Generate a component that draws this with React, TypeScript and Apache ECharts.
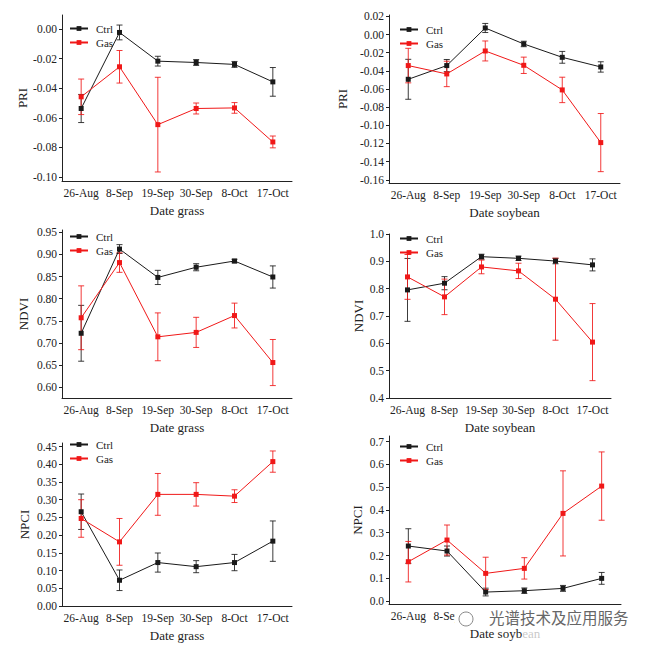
import React, { useEffect, useRef } from "react";
import * as echarts from "echarts";

const categories = ["26-Aug", "8-Sep", "19-Sep", "30-Sep", "8-Oct", "17-Oct"];

// PRI grass
const priGrassCtrl = [-0.0537, -0.0023, -0.0217, -0.0226, -0.0239, -0.0357];
const priGrassCtrlErr = [0.0095, 0.005, 0.0033, 0.002, 0.002, 0.0097];
const priGrassGas = [-0.0458, -0.0255, -0.0646, -0.0537, -0.0533, -0.0763];
const priGrassGasErr = [0.012, 0.011, 0.032, 0.0037, 0.0036, 0.004];
const priGrassTicks = [-0.1, -0.08, -0.06, -0.04, -0.02, 0];

// PRI soybean
const priSoyCtrl = [-0.0493, -0.0342, 0.0072, -0.0104, -0.0251, -0.0357];
const priSoyCtrlErr = [0.022, 0.0067, 0.005, 0.003, 0.0065, 0.0057];
const priSoyGas = [-0.0342, -0.0434, -0.0181, -0.0339, -0.061, -0.119];
const priSoyGasErr = [0.019, 0.014, 0.011, 0.009, 0.014, 0.032];
const priSoyTicks = [-0.16, -0.14, -0.12, -0.1, -0.08, -0.06, -0.04, -0.02, 0, 0.02];

// NDVI grass
const ndviGrassCtrl = [0.722, 0.912, 0.848, 0.871, 0.885, 0.849];
const ndviGrassCtrlErr = [0.063, 0.01, 0.016, 0.008, 0.004, 0.025];
const ndviGrassGas = [0.757, 0.8815, 0.714, 0.724, 0.762, 0.656];
const ndviGrassGasErr = [0.072, 0.022, 0.054, 0.034, 0.028, 0.052];
const ndviGrassTicks = [0.6, 0.65, 0.7, 0.75, 0.8, 0.85, 0.9, 0.95];

// NDVI soybean
const ndviSoyCtrl = [0.7955, 0.82, 0.917, 0.911, 0.901, 0.887];
const ndviSoyCtrlErr = [0.115, 0.024, 0.009, 0.008, 0.01, 0.022];
const ndviSoyGas = [0.843, 0.77, 0.8795, 0.865, 0.7615, 0.6045];
const ndviSoyGasErr = [0.082, 0.065, 0.025, 0.028, 0.15, 0.141];
const ndviSoyTicks = [0.4, 0.5, 0.6, 0.7, 0.8, 0.9, 1.0];

// NPCI grass
const npciGrassCtrl = [0.266, 0.0726, 0.1226, 0.111, 0.1226, 0.183];
const npciGrassCtrlErr = [0.05, 0.029, 0.027, 0.017, 0.023, 0.057];
const npciGrassGas = [0.247, 0.181, 0.315, 0.315, 0.31, 0.4075];
const npciGrassGasErr = [0.053, 0.066, 0.059, 0.033, 0.018, 0.03];
const npciGrassTicks = [0, 0.05, 0.1, 0.15, 0.2, 0.25, 0.3, 0.35, 0.4, 0.45];

// NPCI soybean
const npciSoyCtrl = [0.2416, 0.2197, 0.0395, 0.0454, 0.0556, 0.0996];
const npciSoyCtrlErr = [0.076, 0.022, 0.017, 0.012, 0.013, 0.026];
const npciSoyGas = [0.1728, 0.268, 0.1215, 0.1435, 0.385, 0.505];
const npciSoyGasErr = [0.089, 0.066, 0.071, 0.047, 0.187, 0.15];
const npciSoyTicks = [0, 0.1, 0.2, 0.3, 0.4, 0.5, 0.6, 0.7];

const BLACK = "#1a1a1a";
const RED = "#f01818";
const FONT = "Liberation Serif";

type Panel = {
  left: number; top: number; width: number; height: number;
  min: number; max: number; ticks: number[]; decimals: number;
  yName: string; yNameGap: number; xName: string;
  ctrl: number[]; ctrlErr: number[]; gas: number[]; gasErr: number[];
  legendLeft: number; legendTop: number;
};

const panels: Panel[] = [
  { left: 62, top: 15, width: 230, height: 166, min: -0.1027, max: 0.0095, ticks: priGrassTicks, decimals: 2,
    yName: "PRI", yNameGap: 33, xName: "Date grass", ctrl: priGrassCtrl, ctrlErr: priGrassCtrlErr,
    gas: priGrassGas, gasErr: priGrassGasErr, legendLeft: 69, legendTop: 22 },
  { left: 389, top: 15, width: 231, height: 168, min: -0.1635, max: 0.0215, ticks: priSoyTicks, decimals: 2,
    yName: "PRI", yNameGap: 40, xName: "Date soybean", ctrl: priSoyCtrl, ctrlErr: priSoyCtrlErr,
    gas: priSoyGas, gasErr: priSoyGasErr, legendLeft: 399, legendTop: 23 },
  { left: 62, top: 230, width: 230, height: 168, min: 0.576, max: 0.955, ticks: ndviGrassTicks, decimals: 2,
    yName: "NDVI", yNameGap: 32, xName: "Date grass", ctrl: ndviGrassCtrl, ctrlErr: ndviGrassCtrlErr,
    gas: ndviGrassGas, gasErr: ndviGrassGasErr, legendLeft: 69, legendTop: 230 },
  { left: 389, top: 234, width: 222, height: 164, min: 0.4, max: 1.0, ticks: ndviSoyTicks, decimals: 1,
    yName: "NDVI", yNameGap: 24, xName: "Date soybean", ctrl: ndviSoyCtrl, ctrlErr: ndviSoyCtrlErr,
    gas: ndviSoyGas, gasErr: ndviSoyGasErr, legendLeft: 399, legendTop: 232 },
  { left: 62, top: 443, width: 230, height: 163, min: 0, max: 0.46, ticks: npciGrassTicks, decimals: 2,
    yName: "NPCI", yNameGap: 31, xName: "Date grass", ctrl: npciGrassCtrl, ctrlErr: npciGrassCtrlErr,
    gas: npciGrassGas, gasErr: npciGrassGasErr, legendLeft: 69, legendTop: 438 },
  { left: 389, top: 436, width: 232, height: 168, min: -0.013, max: 0.725, ticks: npciSoyTicks, decimals: 1,
    yName: "NPCI", yNameGap: 25, xName: "Date soybean", ctrl: npciSoyCtrl, ctrlErr: npciSoyCtrlErr,
    gas: npciSoyGas, gasErr: npciSoyGasErr, legendLeft: 399, legendTop: 440 },
];

function errRender(color: string) {
  return (params: any, api: any) => {
    const x = api.value(0);
    const lo = api.coord([x, api.value(1)]);
    const hi = api.coord([x, api.value(2)]);
    const w = 3;
    const style = { stroke: color, lineWidth: 1, opacity: 0.85 };
    return {
      type: "group",
      children: [
        { type: "line", shape: { x1: lo[0], y1: lo[1], x2: hi[0], y2: hi[1] }, style },
        { type: "line", shape: { x1: lo[0] - w, y1: lo[1], x2: lo[0] + w, y2: lo[1] }, style },
        { type: "line", shape: { x1: hi[0] - w, y1: hi[1], x2: hi[0] + w, y2: hi[1] }, style },
      ],
    };
  };
}

function buildOption() {
  const grid: any[] = [];
  const xAxis: any[] = [];
  const yAxis: any[] = [];
  const series: any[] = [];
  const legend: any[] = [];
  panels.forEach((p, i) => {
    grid.push({ left: p.left, top: p.top, width: p.width, height: p.height, containLabel: false });
    xAxis.push({
      type: "category", gridIndex: i, data: categories, boundaryGap: true,
      name: p.xName, nameLocation: "middle", nameGap: 23,
      nameTextStyle: { fontFamily: FONT, fontSize: 13, color: "#222" },
      axisLine: { onZero: false, lineStyle: { color: "#222", width: 1 } },
      axisTick: { alignWithLabel: true, length: 3, lineStyle: { color: "#222" } },
      axisLabel: { fontFamily: FONT, fontSize: 11.5, color: "#222", margin: 6, interval: 0 },
      splitLine: { show: false },
    });
    yAxis.push({
      type: "value", gridIndex: i, min: p.min, max: p.max,
      name: p.yName, nameLocation: "middle", nameGap: p.yNameGap,
      nameTextStyle: { fontFamily: FONT, fontSize: 13, color: "#222" },
      axisLine: { show: true, onZero: false, lineStyle: { color: "#222", width: 1 } },
      axisTick: { show: true, length: 3, customValues: p.ticks, lineStyle: { color: "#222" } },
      axisLabel: {
        fontFamily: FONT, fontSize: 11.5, color: "#222", margin: 5,
        customValues: p.ticks,
        formatter: (v: number) => v.toFixed(p.decimals),
      },
      splitLine: { show: false },
    });
    const mk = (name: string, vals: number[], errs: number[], color: string, symbol: string) => {
      series.push({
        type: "custom", name: name + " err", xAxisIndex: i, yAxisIndex: i,
        renderItem: errRender(color),
        data: vals.map((v, k) => [k, v - errs[k], v + errs[k]]),
        encode: { x: 0, y: [1, 2] }, z: 2, silent: true,
      });
      series.push({
        type: "line", name, xAxisIndex: i, yAxisIndex: i, data: vals,
        symbol, symbolSize: 5, lineStyle: { color, width: 1 }, itemStyle: { color },
        z: 3,
      });
    };
    mk("Ctrl", p.ctrl, p.ctrlErr, BLACK, "rect");
    mk("Gas", p.gas, p.gasErr, RED, "rect");
    legend.push({
      left: p.legendLeft, top: p.legendTop, orient: "vertical", padding: 0,
      data: ["Ctrl", "Gas"], itemWidth: 18, itemHeight: 6, itemGap: 1,
      textStyle: { fontFamily: FONT, fontSize: 11, color: "#222", lineHeight: 13, padding: [0, 0, 0, 3] },
      selectedMode: false,
    });
  });
  return {
    animation: false,
    backgroundColor: "#ffffff",
    grid, xAxis, yAxis, series, legend,
    graphic: [
      { type: "rect", shape: { x: 455, y: 609, width: 196, height: 18 }, style: { fill: "#fff" }, z: 90 },
      { type: "rect", shape: { x: 522, y: 627, width: 129, height: 13 }, style: { fill: "#fff", opacity: 0.75 }, z: 90 },
      { type: "circle", shape: { cx: 466, cy: 619, r: 7 }, style: { fill: "none", stroke: "#888", lineWidth: 1 }, z: 100 },
      {
        type: "text", x: 489, y: 617, z: 100,
        style: {
          text: "光谱技术及应用服务", fill: "#666",
          font: "15.5px 'Noto Sans CJK SC'", verticalAlign: "middle",
        },
      },
    ],
  };
}

export default function App() {
  const ref = useRef<HTMLDivElement>(null);
  useEffect(() => {
    if (!ref.current) return;
    const chart = echarts.init(ref.current, undefined, { renderer: "svg" });
    chart.setOption(buildOption() as any);
    return () => chart.dispose();
  }, []);
  return (
    <div
      ref={ref}
      style={{ position: "fixed", left: 0, top: 0, width: 651, height: 650, background: "#fff" }}
    />
  );
}
